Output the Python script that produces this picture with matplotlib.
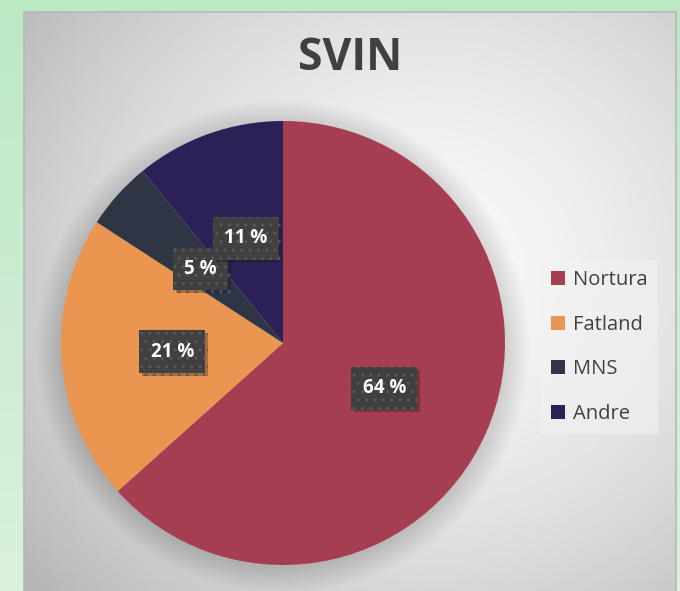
import numpy as np
import matplotlib
matplotlib.use('Agg')
import matplotlib.pyplot as plt
from matplotlib.patches import Circle, Patch
from matplotlib.colors import LinearSegmentedColormap
import matplotlib.patheffects as pe

# data
labels = ['Nortura', 'Fatland', 'MNS', 'Andre']
shares = [64, 21, 5, 11]
colors = ['#A63E52', '#EA9651', '#2E3544', '#2B2156']
title = 'SVIN'

plt.rcParams['font.family'] = ['Open Sans', 'DejaVu Sans']
plt.rcParams['hatch.linewidth'] = 1.0

W, H = 680, 591
fig = plt.figure(figsize=(W / 100, H / 100), dpi=100)

# green background, vertical gradient
bg = fig.add_axes([0, 0, 1, 1])
green = LinearSegmentedColormap.from_list('g', ['#BCE8C4', '#DAF1DE'])
bg.imshow(np.linspace(0, 1, 200)[:, None], cmap=green, aspect='auto',
          extent=[0, 1, 0, 1], origin='upper')
bg.axis('off')

# panel with radial grey gradient
panel = fig.add_axes([24 / W, 0, 652 / W, 1 - 12 / H])
yy, xx = np.mgrid[0:1:300j, 0:1:300j]
d = np.sqrt(((xx - 0.62) / 0.75) ** 2 + ((yy - 0.45) / 0.8) ** 2)
img = 0.975 - 0.24 * d ** 1.6
panel.imshow(img, cmap='gray', vmin=0, vmax=1, extent=[0, 1, 0, 1],
             aspect='auto', origin='upper')
panel.set_xlim(0, 1)
panel.set_ylim(0, 1)
panel.set_xticks([])
panel.set_yticks([])
for s in panel.spines.values():
    s.set_color('#B8B8B8')
    s.set_linewidth(1.2)
panel.spines['bottom'].set_visible(False)

# pie
ax = fig.add_axes([61 / W, 1 - 565 / H, 444 / W, 444 / H])
ax.set_xlim(-1, 1)
ax.set_ylim(-1, 1)
ax.axis('off')

# soft shadow under the pie
for i in range(12):
    ax.add_patch(Circle((0, -0.015), 1.0 + 0.01 * i, color='black',
                        alpha=0.01, lw=0, zorder=0, clip_on=False))

total = sum(shares)
wedges, texts, autotexts = ax.pie(
    shares, colors=colors, startangle=90, counterclock=False,
    radius=1, pctdistance=0.5,
    autopct=lambda p: f'{p * total / 100:.0f} %',
    textprops=dict(color='white', fontsize=13.5, fontweight='bold'),
    wedgeprops=dict(linewidth=0))
ax.set_xlim(-1, 1)
ax.set_ylim(-1, 1)

for t in autotexts:
    t.set_bbox(dict(boxstyle='square,pad=0.6', facecolor='#404040',
                    edgecolor='#585858', hatch='..', linewidth=0))
    t.get_bbox_patch().set_path_effects(
        [pe.SimplePatchShadow(offset=(2, -2), alpha=0.3), pe.Normal()])

# title
fig.text(350 / W, 1 - 59 / H, title, ha='center', va='center',
         fontsize=32, fontweight='bold', color='#404040')

# legend
handles = [Patch(facecolor=c, edgecolor='none') for c in colors]
leg = fig.legend(handles, labels, loc='center left',
                 bbox_to_anchor=(541 / W, 1 - 347 / H),
                 frameon=True, fontsize=14.5, labelspacing=1.22,
                 handlelength=0.7, handleheight=0.7, handletextpad=0.4,
                 borderpad=0.5, borderaxespad=0, fancybox=False)
leg.get_frame().set_facecolor('#F2F2F2')
leg.get_frame().set_alpha(0.6)
leg.get_frame().set_edgecolor('none')
for t in leg.get_texts():
    t.set_color('#404040')

fig.savefig('out.png', dpi=100)
